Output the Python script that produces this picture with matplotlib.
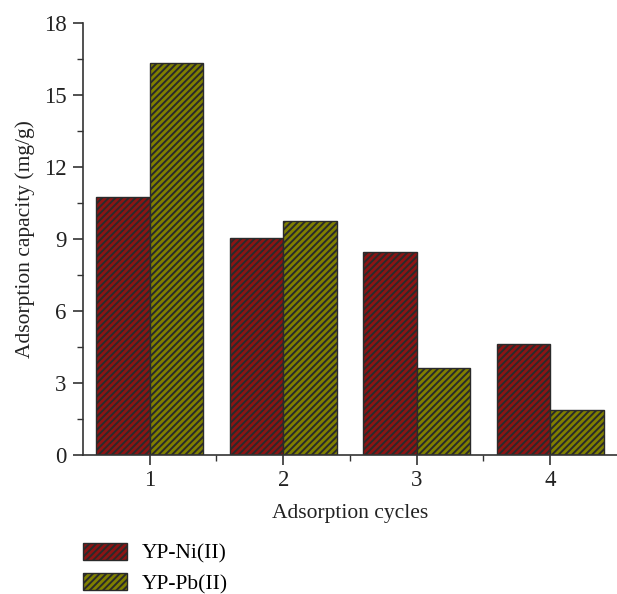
import numpy as np
import matplotlib.pyplot as plt
from matplotlib.ticker import MultipleLocator

# --- data ---
cycles = [1, 2, 3, 4]
ni_capacity = [10.75, 9.05, 8.45, 4.62]
pb_capacity = [16.32, 9.75, 3.62, 1.87]
series_labels = ["YP-Ni(II)", "YP-Pb(II)"]

plt.rcParams['font.family'] = ['Liberation Serif', 'DejaVu Serif']
plt.rcParams['hatch.linewidth'] = 1.4
plt.rcParams['hatch.color'] = '#1a1a1a'

fig = plt.figure(figsize=(6.17, 5.94), dpi=100)
ax = fig.add_axes([0.1345, 0.234, 0.8655, 0.727])

x = np.array(cycles)
w = 0.4
b1 = ax.bar(x - w / 2, ni_capacity, w, color='#8b1414', edgecolor='#2a2a2a',
            linewidth=1.0, hatch='/////', label=series_labels[0])
b2 = ax.bar(x + w / 2, pb_capacity, w, color='#7f7f00', edgecolor='#2a2a2a',
            linewidth=1.0, hatch='/////', label=series_labels[1])

ax.set_xlim(0.5, 4.5)
ax.set_ylim(0, 18)
ax.set_xticks(cycles)
ax.xaxis.set_minor_locator(plt.FixedLocator([1.5, 2.5, 3.5]))
ax.yaxis.set_major_locator(MultipleLocator(3))
ax.yaxis.set_minor_locator(MultipleLocator(1.5))

for s in ['top', 'right']:
    ax.spines[s].set_visible(False)
for s in ['left', 'bottom']:
    ax.spines[s].set_linewidth(1.2)
    ax.spines[s].set_color('#333333')

ax.tick_params(axis='both', which='major', direction='out', length=7, width=1.2,
               labelsize=16.5, colors='#333333', labelcolor='#222222')
ax.tick_params(axis='x', which='major', pad=4)
ax.tick_params(axis='y', which='major', pad=5)
ax.tick_params(axis='both', which='minor', direction='out', length=4, width=1.0,
               colors='#333333')

ax.set_xlabel("Adsorption cycles", fontsize=15.5, color='#222222', labelpad=9)
ax.set_ylabel("Adsorption capacity (mg/g)", fontsize=15.5, color='#222222', labelpad=6)

fig.legend(handles=[b1, b2], labels=series_labels, loc='center left',
           bbox_to_anchor=(0.1345, 0.043), frameon=False, fontsize=15.5,
           handlelength=2.05, handleheight=0.84, handletextpad=0.7,
           labelspacing=0.45, borderaxespad=0, borderpad=0)

fig.savefig("out.png", dpi=100)
